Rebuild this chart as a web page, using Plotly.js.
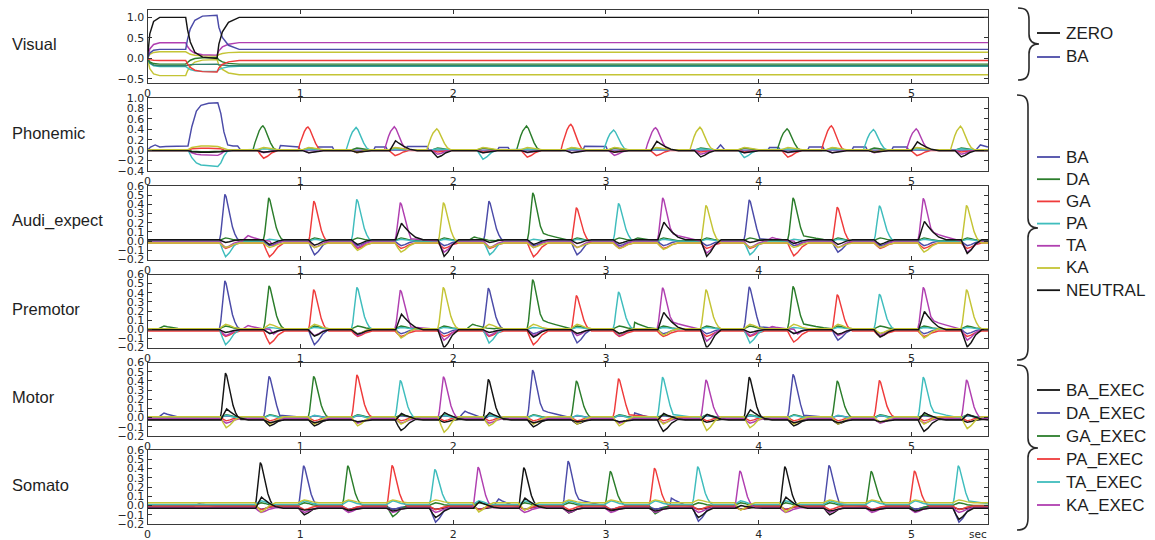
<!DOCTYPE html>
<html>
<head>
<meta charset="utf-8">
<script src="https://cdn.plot.ly/plotly-3.0.1.min.js"></script>
<style>html,body{margin:0;padding:0;background:#fff;}</style>
</head>
<body>
<div id="chart" style="width:1155px;height:540px;"></div>
<script>
// ---------- axes / labels ----------
const X_END = 5.5;
const xTickVals = [0, 1, 2, 3, 4, 5];
const xTickText = ['0', '1', '2', '3', '4', '5'];
const panelTitles = ['Visual', 'Phonemic', 'Audi_expect', 'Premotor', 'Motor', 'Somato'];
const visYTicks = [-0.5, 0, 0.5, 1.0];
const phonYTicks = [-0.4, -0.2, 0, 0.2, 0.4, 0.6, 0.8, 1.0];
const smallYTicks = [-0.2, -0.1, 0, 0.1, 0.2, 0.3, 0.4, 0.5, 0.6];
const visualLegend = ['ZERO', 'BA'];
const phonemeNames = ['BA', 'DA', 'GA', 'PA', 'TA', 'KA', 'NEUTRAL'];
const execNames = ['BA_EXEC', 'DA_EXEC', 'GA_EXEC', 'PA_EXEC', 'TA_EXEC', 'KA_EXEC'];

// ---------- Visual layer (piecewise activity) ----------
const visT       = [0, 0.015, 0.04, 0.08, 0.25, 0.262, 0.28, 0.31, 0.36, 0.455, 0.467, 0.49, 0.53, 0.6, 5.5];
const visZero    = [0, 0.6, 0.9, 1.0, 1.0, 0.7, 0.4, 0.15, 0.03, 0.0, 0.35, 0.65, 0.88, 1.0, 1.0];
const visBa      = [0, 0.13, 0.2, 0.22, 0.22, 0.47, 0.72, 0.93, 1.03, 1.05, 0.76, 0.51, 0.32, 0.22, 0.22];
const visMag     = [0, 0.23, 0.34, 0.38, 0.38, 0.29, 0.2, 0.125, 0.09, 0.08, 0.185, 0.28, 0.345, 0.385, 0.385];
const visYel     = [0, 0.1, 0.145, 0.16, 0.16, 0.13, 0.1, 0.075, 0.063, 0.06, 0.092, 0.118, 0.14, 0.15, 0.15];
const visRed     = [0, -0.03, -0.045, -0.05, -0.05, -0.134, -0.218, -0.288, -0.322, -0.33, -0.232, -0.148, -0.084, -0.05, -0.05];
const visGreen   = [0, -0.085, -0.126, -0.14, -0.14, -0.092, -0.044, -0.004, 0.015, 0.02, -0.036, -0.084, -0.121, -0.14, -0.14];
const visTeal    = [0, -0.11, -0.16, -0.18, -0.18, -0.168, -0.156, -0.146, -0.141, -0.14, -0.154, -0.166, -0.175, -0.18, -0.18];
const visCyan    = [0, -0.12, -0.18, -0.2, -0.2, -0.236, -0.272, -0.302, -0.316, -0.32, -0.275, -0.236, -0.206, -0.19, -0.19];
const visYel2    = [0, -0.25, -0.38, -0.42, -0.42, -0.303, -0.186, -0.089, -0.042, -0.03, -0.16, -0.27, -0.356, -0.4, -0.4];

// ---------- response shapes ----------
const phonPkOff = [-0.065, -0.052, -0.038, -0.024, -0.01, 0, 0.012, 0.03, 0.05, 0.07, 0.09];
const phonPkLvl = [0, 0.3, 0.58, 0.8, 0.95, 1, 0.9, 0.6, 0.3, 0.08, 0];
const pkOff = [-0.036, -0.027, -0.018, -0.009, 0, 0.008, 0.02, 0.035, 0.05, 0.066, 0.082, 0.1];
const pkLvl = [0, 0.15, 0.45, 0.8, 1, 0.95, 0.75, 0.5, 0.3, 0.15, 0.05, 0];
const tailOff = [0.07, 0.1, 0.15, 0.2, 0.25];
const tailLvl = [1.3, 1, 0.65, 0.3, 0];
const dipOff = [-0.035, -0.015, 0.005, 0.03, 0.06, 0.1];
const dipLvl = [0, 0.55, 1, 0.75, 0.3, 0];
const neuOff = [-0.03, -0.01, 0.008, 0.03, 0.06, 0.1, 0.15];
const neuLvl = [0, 0.55, 1, 0.75, 0.45, 0.15, 0];

// ---------- Phonemic ----------
const phonTimes = [0.755, 1.05, 1.365, 1.615, 1.893, 2.19, 2.48, 2.77, 3.05, 3.325, 3.615, 3.90, 4.185, 4.475, 4.75, 5.03, 5.32];
const phonPeakIdx = [1, 2, 3, 4, 5, 0, 1, 2, 3, 4, 5, 0, 1, 2, 3, 4, 5];
const phonPeakH = [0.465, 0.45, 0.43, 0.45, 0.40, 0.51, 0.465, 0.50, 0.38, 0.43, 0.43, 0.43, 0.41, 0.47, 0.39, 0.41, 0.45];
const phonDipIdx = [2, 0, 5, 2, 4, 3, 2, 0, 4, 2, 4, 3, 2, 0, 5, 2, 4];
const phonDipD = [-0.15, -0.16, -0.06, -0.1, -0.08, -0.18, -0.13, -0.17, -0.1, -0.1, -0.08, -0.15, -0.13, -0.17, -0.05, -0.1, -0.08];
const phonNeu = [-0.03, -0.04, -0.03, 0.19, -0.13, -0.04, -0.03, -0.04, -0.03, 0.18, -0.12, -0.04, -0.03, -0.04, -0.03, 0.17, -0.12];
const phonTail = [0, 0, 0, 0, 0, 0, 0, 0, 0, 0, 0, 0, 0, 0, 0, 0, 0];
const phonFan = [-0.04, 0.04, -0.03, 0.02, -0.05, 0.04, 0];
const phonBase = [0, 0, -0.005, 0.005, 0, 0.01, -0.01];
// opening stretch: BA held high, others pushed away
const phonOpenT = [0, 0.02, 0.05, 0.08, 0.12, 0.22, 0.265, 0.29, 0.32, 0.35, 0.4, 0.46, 0.48, 0.5, 0.525, 0.56, 0.59, 0.61];
const phonOpenV = [
  [0, 0.06, 0.1, 0.06, 0.07, 0.07, 0.08, 0.45, 0.75, 0.86, 0.9, 0.91, 0.7, 0.35, 0.1, 0.08, 0.08, 0],
  [0, 0, 0, 0, 0, 0, 0, -0.02, -0.03, -0.03, -0.03, -0.03, -0.02, -0.01, 0, 0, 0, 0],
  [0, 0, 0, 0, 0, 0, 0, 0.03, 0.04, 0.04, 0.04, 0.04, 0.03, 0.01, 0, 0, 0, 0],
  [0, 0, 0, 0, 0, 0, 0, -0.15, -0.25, -0.29, -0.3, -0.32, -0.25, -0.12, -0.02, 0, 0, 0],
  [0, 0, 0, 0, 0, 0, 0, -0.05, -0.08, -0.09, -0.1, -0.1, -0.07, -0.03, 0, 0, 0, 0],
  [0, 0, 0, 0, 0, 0, 0, 0.04, 0.06, 0.07, 0.07, 0.06, 0.04, 0.02, 0, 0, 0, 0],
  [0, 0, 0, 0, 0, 0, 0, -0.02, -0.03, -0.03, -0.03, -0.03, -0.02, -0.01, 0, 0, 0, 0]
];
// BA resting activity between syllables
const phonBaIdleT = [0.86, 0.87, 0.99, 1.0, 1.11, 1.12, 1.21, 1.22, 1.48, 1.49, 1.56, 1.57, 1.69, 1.7, 1.83, 1.84,
  2.29, 2.3, 2.36, 2.37, 2.85, 2.86, 3.0, 3.01, 3.72, 3.75, 3.78, 4.06, 4.07, 4.13, 4.14, 4.32, 4.33, 4.42, 4.43,
  4.61, 4.62, 4.7, 4.71, 4.87, 4.88, 4.97, 4.98, 5.42, 5.45, 5.5];
const phonBaIdleV = [0, 0.09, 0.06, 0, 0, 0.06, 0.06, 0, 0, 0.06, 0.06, 0, 0, 0.07, 0.07, 0,
  0, 0.05, 0.05, 0, 0, 0.075, 0.07, 0, 0, 0.1, 0, 0, 0.05, 0.05, 0, 0, 0.06, 0.06, 0,
  0, 0.06, 0.06, 0, 0, 0.06, 0.06, 0, 0, 0.1, 0.06];

// ---------- Audi_expect ----------
const audTimes = [0.506, 0.793, 1.088, 1.369, 1.654, 1.936, 2.234, 2.521, 2.806, 3.082, 3.371, 3.654, 3.937, 4.224, 4.513, 4.789, 5.076, 5.359];
const audPeakIdx = [0, 1, 2, 3, 4, 5, 0, 1, 2, 3, 4, 5, 0, 1, 2, 3, 4, 5];
const audPeakH = [0.51, 0.465, 0.455, 0.455, 0.42, 0.44, 0.435, 0.52, 0.385, 0.41, 0.47, 0.41, 0.45, 0.465, 0.39, 0.385, 0.465, 0.41];
const audDipIdx = [3, 2, 0, 5, 5, 4, 3, 2, 0, 5, 5, 4, 3, 2, 0, 5, 5, 4];
const audDipD = [-0.17, -0.15, -0.15, -0.08, -0.1, -0.12, -0.15, -0.15, -0.15, -0.06, -0.07, -0.13, -0.15, -0.14, -0.12, -0.05, -0.1, -0.12];
const audNeu = [-0.03, -0.05, -0.06, -0.05, 0.18, -0.18, -0.03, -0.05, -0.04, -0.04, 0.19, -0.18, -0.03, -0.04, -0.05, -0.05, 0.2, -0.15];
const audTail = [0, 0, 0, 0, 0.02, 0, 0, 0.06, 0, 0, 0.06, 0, 0.02, 0.04, 0, 0, 0.07, 0];
const audFan = [-0.05, 0.03, -0.06, 0.02, -0.07, -0.05, 0];
const audBase = [0, 0.005, -0.02, 0, 0, -0.02, 0.015];
const audBumpIdx = [4, 1, 1, 4];
const audBumpT = [0.65, 2.13, 3.2, 4.08];
const audBumpA = [0.06, 0.04, 0.03, 0.04];

// ---------- Premotor ----------
const preTimes = [0.506, 0.795, 1.087, 1.37, 1.654, 1.935, 2.23, 2.52, 2.806, 3.082, 3.37, 3.654, 3.937, 4.224, 4.513, 4.789, 5.076, 5.359];
const prePeakIdx = [0, 1, 2, 3, 4, 5, 0, 1, 2, 3, 4, 5, 0, 1, 2, 3, 4, 5];
const prePeakH = [0.53, 0.47, 0.455, 0.46, 0.43, 0.455, 0.45, 0.54, 0.39, 0.41, 0.455, 0.43, 0.465, 0.465, 0.40, 0.385, 0.46, 0.43];
const preDipIdx = [3, 2, 0, 5, 5, 4, 3, 2, 0, 5, 5, 4, 3, 2, 0, 5, 5, 4];
const preDipD = [-0.17, -0.14, -0.17, -0.06, -0.1, -0.12, -0.15, -0.15, -0.15, -0.06, -0.07, -0.13, -0.15, -0.12, -0.12, -0.05, -0.1, -0.12];
const preNeu = [-0.03, -0.04, -0.07, -0.05, 0.17, -0.2, -0.03, -0.08, -0.04, -0.04, 0.19, -0.2, -0.03, -0.04, -0.05, -0.08, 0.2, -0.19];
const preTail = [0, 0, 0, 0, 0.02, 0, 0, 0.07, 0, 0, 0.06, 0, 0.02, 0.04, 0, 0, 0.07, 0];
const preFan = [-0.05, 0.03, -0.06, 0.02, -0.07, 0.05, 0];
const preBase = [0, 0.005, -0.02, 0, 0, 0.005, -0.005];
const preBumpIdx = [1, 4, 1, 1, 4];
const preBumpT = [0.1, 0.65, 2.12, 3.18, 4.08];
const preBumpA = [0.03, 0.04, 0.05, 0.07, 0.03];

// ---------- Motor ----------
const motTimes = [0.51, 0.795, 1.087, 1.37, 1.654, 1.936, 2.23, 2.52, 2.806, 3.082, 3.37, 3.654, 3.937, 4.224, 4.513, 4.789, 5.076, 5.359];
const motPeakIdx = [0, 1, 2, 3, 4, 5, 0, 1, 2, 3, 4, 5, 0, 1, 2, 3, 4, 5];
const motPeakH = [0.505, 0.45, 0.45, 0.46, 0.41, 0.455, 0.437, 0.517, 0.40, 0.42, 0.445, 0.42, 0.46, 0.47, 0.40, 0.40, 0.445, 0.42];
const motDipIdx = [6, 0, 0, 6, 0, 6, 6, 0, 0, 6, 0, 6, 6, 0, 0, 6, 0, 6];
const motDipD = [-0.12, -0.07, -0.07, -0.1, -0.12, -0.17, -0.1, -0.08, -0.05, -0.1, -0.13, -0.15, -0.12, -0.07, -0.05, -0.06, -0.13, -0.13];
const motNeu = [0.12, -0.03, -0.03, -0.02, 0.07, 0.08, 0.08, -0.03, -0.02, -0.02, 0.07, 0.06, 0.11, -0.03, -0.03, -0.02, 0.08, 0.06];
const motTail = [0, 0.02, 0, 0, 0, 0, 0, 0.06, 0, 0.02, 0.03, 0, 0, 0.02, 0, 0, 0.05, 0];
const motFan = [-0.03, 0.02, 0.03, -0.04, 0.03, -0.05, -0.08, 0];
const motBase = [-0.02, 0, 0, 0.005, -0.005, -0.01, 0.01, -0.025];
const motBumpIdx = [1, 1, 1];
const motBumpT = [0.1, 2.07, 3.18];
const motBumpA = [0.05, 0.07, 0.05];

// ---------- Somato ----------
const somTimes = [0.738, 1.021, 1.31, 1.60, 1.88, 2.163, 2.462, 2.752, 3.028, 3.317, 3.60, 3.876, 4.17, 4.459, 4.735, 5.018, 5.305];
const somPeakIdx = [0, 1, 2, 3, 4, 5, 0, 1, 2, 3, 4, 5, 0, 1, 2, 3, 4];
const somPeakH = [0.485, 0.44, 0.43, 0.44, 0.38, 0.44, 0.43, 0.49, 0.37, 0.41, 0.41, 0.40, 0.44, 0.445, 0.37, 0.38, 0.42];
const somDipIdx = [6, 0, 0, 2, 1, 6, 6, 0, 0, 2, 1, 6, 6, 0, 0, 2, 1];
const somDipD = [-0.1, -0.08, -0.04, -0.12, -0.17, -0.1, -0.08, -0.06, -0.04, -0.09, -0.16, -0.08, -0.1, -0.08, -0.04, -0.07, -0.17];
const somNeu = [0.12, -0.02, -0.02, -0.03, -0.1, 0.07, 0.11, -0.03, -0.02, -0.03, -0.1, 0.03, 0.12, -0.03, -0.02, -0.03, -0.12];
const somTail = [0, 0, 0, 0, 0, 0, 0, 0.06, 0, 0, 0, 0, 0, 0.02, 0, 0, 0.03];
const somFan = [-0.02, -0.03, 0.03, -0.04, 0.04, -0.05, 0.03, 0];
const somBase = [-0.02, -0.01, 0, -0.005, 0.01, -0.025, 0.03, -0.03];
const somBumpIdx = [1, 1, 1];
const somBumpT = [0.33, 2.29, 3.42];
const somBumpA = [0.03, 0.08, 0.09];

// ---------- colours ----------
const COL = {b: '#4b4ba8', g: '#2b7d2b', r: '#ef3b3b', c: '#3fbdbd', m: '#b03fb0', y: '#c4c435', k: '#141414'};
const phonemeColors = [COL.b, COL.g, COL.r, COL.c, COL.m, COL.y, COL.k];
const execColors = [COL.k, COL.b, COL.g, COL.r, COL.c, COL.m, COL.y, COL.k];

// ---------- trace building ----------
function pushProfile(xs, ys, t0, amp, base, offs, lvls) {
  for (let i = 0; i < offs.length; i++) {
    const t = t0 + offs[i];
    if (xs.length && t <= xs[xs.length - 1]) continue;
    xs.push(t); ys.push(base + amp * lvls[i]);
  }
}

function buildLayer(L) {
  const n = L.base.length;
  const parts = Array.from({length: n}, () => []);
  L.times.forEach((t0, e) => {
    const used = new Set();
    const pk = L.peakIdx[e];
    parts[pk].push({t0: t0 + L.peakOff[0], kind: 'peak', at: t0, amp: L.peakH[e], tail: L.tail[e]});
    used.add(pk);
    const d = L.dipIdx[e];
    if (!used.has(d)) { parts[d].push({t0: t0 + dipOff[0], kind: 'dip', at: t0, amp: L.dipD[e]}); used.add(d); }
    if (!used.has(L.neuIdx)) {
      parts[L.neuIdx].push({t0: t0 + neuOff[0], kind: L.neu[e] > 0 ? 'neu' : 'dip', at: t0, amp: L.neu[e]});
      used.add(L.neuIdx);
    }
    for (let k = 0; k < n; k++) {
      if (!used.has(k) && L.fan[k] !== 0) parts[k].push({t0: t0 + dipOff[0], kind: 'dip', at: t0, amp: L.fan[k]});
    }
  });
  (L.bumpIdx || []).forEach((k, i) => parts[k].push({t0: L.bumpT[i] + neuOff[0], kind: 'neu', at: L.bumpT[i], amp: L.bumpA[i]}));
  (L.raw || []).forEach(r => parts[r.k].push({t0: r.t[0], kind: 'raw', t: r.t, v: r.v}));

  return parts.map((list, k) => {
    list.sort((a, b) => a.t0 - b.t0);
    const xs = [0], ys = [L.base[k]];
    const b = L.base[k];
    list.forEach(p => {
      if (p.kind === 'raw') {
        p.t.forEach((t, i) => { if (t > xs[xs.length - 1]) { xs.push(t); ys.push(b + p.v[i]); } });
      } else if (p.kind === 'peak') {
        if (p.tail > 0) {
          const cut = L.peakOff.filter(o => o <= 0.05).length;
          pushProfile(xs, ys, p.at, p.amp, b, L.peakOff.slice(0, cut), L.peakLvl.slice(0, cut));
          pushProfile(xs, ys, p.at, p.tail, b, tailOff, tailLvl);
        } else {
          pushProfile(xs, ys, p.at, p.amp, b, L.peakOff, L.peakLvl);
        }
      } else if (p.kind === 'neu') {
        pushProfile(xs, ys, p.at, p.amp, b, neuOff, neuLvl);
      } else {
        pushProfile(xs, ys, p.at, p.amp, b, dipOff, dipLvl);
      }
    });
    if (xs[xs.length - 1] < X_END) { xs.push(X_END); ys.push(b); }
    return {x: xs, y: ys};
  });
}

const layers = [
  {times: phonTimes, peakIdx: phonPeakIdx, peakH: phonPeakH, dipIdx: phonDipIdx, dipD: phonDipD,
   neu: phonNeu, neuIdx: 6, tail: phonTail, fan: phonFan, base: phonBase, peakOff: phonPkOff, peakLvl: phonPkLvl,
   raw: phonOpenV.map((v, k) => ({k: k, t: phonOpenT, v: v})).concat([{k: 0, t: phonBaIdleT, v: phonBaIdleV}]),
   names: phonemeNames, colors: phonemeColors},
  {times: audTimes, peakIdx: audPeakIdx, peakH: audPeakH, dipIdx: audDipIdx, dipD: audDipD,
   neu: audNeu, neuIdx: 6, tail: audTail, fan: audFan, base: audBase, peakOff: pkOff, peakLvl: pkLvl,
   bumpIdx: audBumpIdx, bumpT: audBumpT, bumpA: audBumpA, names: phonemeNames, colors: phonemeColors},
  {times: preTimes, peakIdx: prePeakIdx, peakH: prePeakH, dipIdx: preDipIdx, dipD: preDipD,
   neu: preNeu, neuIdx: 6, tail: preTail, fan: preFan, base: preBase, peakOff: pkOff, peakLvl: pkLvl,
   bumpIdx: preBumpIdx, bumpT: preBumpT, bumpA: preBumpA, names: phonemeNames, colors: phonemeColors},
  {times: motTimes, peakIdx: motPeakIdx, peakH: motPeakH, dipIdx: motDipIdx, dipD: motDipD,
   neu: motNeu, neuIdx: 7, tail: motTail, fan: motFan, base: motBase, peakOff: pkOff, peakLvl: pkLvl,
   bumpIdx: motBumpIdx, bumpT: motBumpT, bumpA: motBumpA, names: execNames.concat(['rest', 'hold']), colors: execColors},
  {times: somTimes, peakIdx: somPeakIdx, peakH: somPeakH, dipIdx: somDipIdx, dipD: somDipD,
   neu: somNeu, neuIdx: 7, tail: somTail, fan: somFan, base: somBase, peakOff: pkOff, peakLvl: pkLvl,
   bumpIdx: somBumpIdx, bumpT: somBumpT, bumpA: somBumpA, names: execNames.concat(['rest', 'hold']), colors: execColors}
];

const LW = 1.45;
const traces = [];
// Visual layer
const visSeries = [
  {y: visYel2, c: COL.y}, {y: visCyan, c: COL.c}, {y: visTeal, c: '#2f7f6f'}, {y: visGreen, c: COL.g},
  {y: visRed, c: COL.r}, {y: visYel, c: COL.y}, {y: visMag, c: COL.m}, {y: visBa, c: COL.b, name: visualLegend[1]},
  {y: visZero, c: COL.k, name: visualLegend[0]}
];
visSeries.forEach(s => traces.push({
  type: 'scatter', mode: 'lines', x: visT, y: s.y, xaxis: 'x', yaxis: 'y',
  name: s.name || '', showlegend: false, hoverinfo: 'skip', line: {color: s.c, width: LW}
}));
layers.forEach((L, li) => {
  const ax = li + 2;
  buildLayer(L).forEach((tr, k) => traces.push({
    type: 'scatter', mode: 'lines', x: tr.x, y: tr.y, xaxis: 'x' + ax, yaxis: 'y' + ax,
    name: L.names[k], showlegend: false, hoverinfo: 'skip', line: {color: L.colors[k], width: LW}
  }));
});

// ---------- layout ----------
const W = 1155, H = 540;
const px = p => p / W, py = p => 1 - p / H;
const plotLeft = 147.5, plotRight = 988;
const panelTop = [10, 98, 186, 274.5, 362.5, 450];
const panelBot = [83, 171, 259.5, 347.5, 436, 524];
const yRanges = [[-0.6, 1.18], [-0.4, 1.0], [-0.2, 0.6], [-0.2, 0.6], [-0.2, 0.6], [-0.2, 0.6]];
const yTicks = [visYTicks, phonYTicks, smallYTicks, smallYTicks, smallYTicks, smallYTicks];

const tickFont = {family: 'DejaVu Sans', size: 11, color: '#262626'};
const layout = {
  width: W, height: H, margin: {l: 0, r: 0, t: 0, b: 0},
  paper_bgcolor: '#ffffff', plot_bgcolor: '#ffffff', showlegend: false,
  annotations: [], shapes: []
};
for (let i = 0; i < 6; i++) {
  const id = i === 0 ? '' : String(i + 1);
  layout['xaxis' + id] = {
    domain: [px(plotLeft), px(plotRight)], range: [0, X_END], anchor: 'y' + id,
    tickvals: xTickVals, ticktext: xTickText, ticks: 'inside', ticklen: 4, tickcolor: '#333',
    showline: true, linecolor: '#3a3a3a', linewidth: 1, mirror: 'ticks',
    showgrid: false, zeroline: false, tickfont: tickFont, fixedrange: true
  };
  layout['yaxis' + id] = {
    domain: [py(panelBot[i]), py(panelTop[i])], range: yRanges[i], anchor: 'x' + id,
    tickvals: yTicks[i], tickformat: '.1f', ticks: 'inside', ticklen: 4, tickcolor: '#333',
    showline: true, linecolor: '#3a3a3a', linewidth: 1, mirror: 'ticks',
    showgrid: false, zeroline: false, tickfont: tickFont, fixedrange: true
  };
  layout.annotations.push({
    text: panelTitles[i], xref: 'paper', yref: 'paper', x: px(10), y: py((panelTop[i] + panelBot[i]) / 2 - 2),
    xanchor: 'left', yanchor: 'middle', showarrow: false,
    font: {family: 'Liberation Sans', size: 16.5, color: '#1e1e1e'}
  });
}
layout.annotations.push({
  text: 'sec', xref: 'paper', yref: 'paper', x: px(978), y: py(534), xanchor: 'center', yanchor: 'middle',
  showarrow: false, font: {family: 'DejaVu Sans', size: 10.5, color: '#262626'}
});

// curly braces grouping the legend entries
function bracePath(x0, top, bot, mid) {
  const xm = x0 + 11, xt = x0 + 21;
  const P = (x, y) => px(x).toFixed(5) + ',' + py(y).toFixed(5);
  return 'M' + P(x0, top) +
    ' C' + P(x0 + 8, top) + ' ' + P(xm, top + 3) + ' ' + P(xm, top + 12) +
    ' L' + P(xm, mid - 10) +
    ' C' + P(xm, mid - 3) + ' ' + P(xm + 4, mid) + ' ' + P(xt, mid) +
    ' C' + P(xm + 4, mid) + ' ' + P(xm, mid + 3) + ' ' + P(xm, mid + 10) +
    ' L' + P(xm, bot - 12) +
    ' C' + P(xm, bot - 3) + ' ' + P(x0 + 8, bot) + ' ' + P(x0, bot);
}
[[1018, 8, 80, 44], [1017, 95, 360, 228], [1017, 365, 530, 448]].forEach(b => {
  layout.shapes.push({type: 'path', xref: 'paper', yref: 'paper', path: bracePath(b[0], b[1], b[2], b[3]),
    line: {color: '#2a2a2a', width: 1.6}});
});

// legend entries
const legendGroups = [
  {names: visualLegend, colors: [COL.k, COL.b], y0: 33, step: 24},
  {names: phonemeNames, colors: phonemeColors, y0: 157, step: 22.2},
  {names: execNames, colors: execColors.slice(0, 6), y0: 390, step: 23}
];
legendGroups.forEach(g => {
  g.names.forEach((nm, i) => {
    const y = g.y0 + i * g.step;
    layout.shapes.push({type: 'line', xref: 'paper', yref: 'paper', x0: px(1037), x1: px(1060), y0: py(y), y1: py(y),
      line: {color: g.colors[i], width: 1.8}});
    layout.annotations.push({text: nm, xref: 'paper', yref: 'paper', x: px(1064), y: py(y),
      xanchor: 'left', yanchor: 'middle', showarrow: false,
      font: {family: 'Liberation Sans', size: 17, color: '#1e1e1e'}});
  });
});

Plotly.newPlot('chart', traces, layout, {staticPlot: true, displayModeBar: false});
</script>
</body>
</html>
